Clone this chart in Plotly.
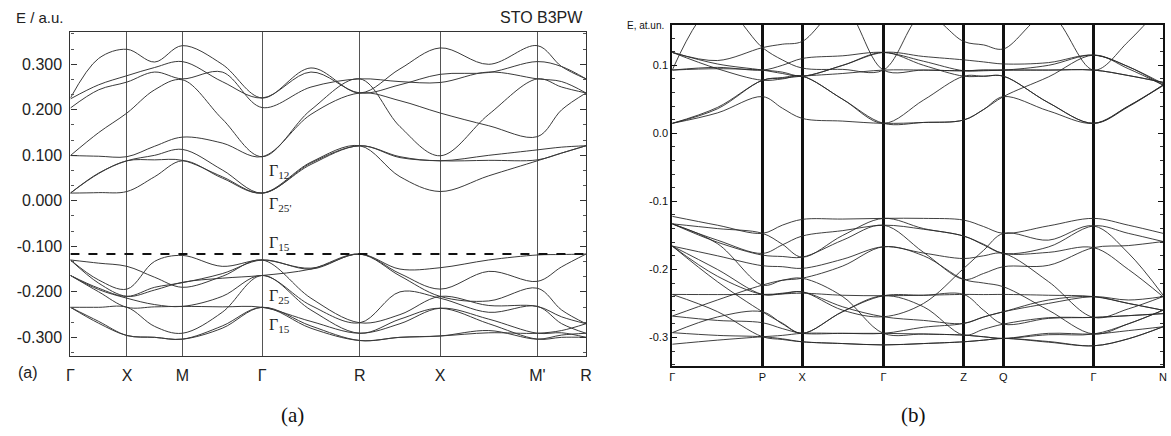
import plotly.graph_objects as go

# ---------------- panel (a): SrTiO3, B3PW ----------------
KA_LABELS = ["Γ", "X", "M", "Γ", "R", "X", "M'", "R"]
KA_TICKS = [0.0, 1.0, 1.98, 3.39, 5.12, 6.54, 8.26, 9.12]

# energies sampled at each symmetry point and at the midpoint of each segment
# Γ, m, X, m, M, m, Γ, m, R, m, X, m, M', m, R
CB_A = [
    [0.226, 0.313, 0.333, 0.305, 0.341, 0.300, 0.226, 0.292, 0.237, 0.290, 0.336, 0.300, 0.341, 0.295, 0.268],
    [0.224, 0.255, 0.275, 0.293, 0.306, 0.262, 0.226, 0.283, 0.237, 0.255, 0.278, 0.282, 0.306, 0.295, 0.268],
    [0.204, 0.244, 0.261, 0.283, 0.268, 0.283, 0.205, 0.250, 0.268, 0.262, 0.260, 0.283, 0.268, 0.262, 0.237],
    [0.0995, 0.150, 0.193, 0.244, 0.266, 0.180, 0.097, 0.200, 0.268, 0.163, 0.099, 0.190, 0.268, 0.250, 0.237],
    [0.0995, 0.098, 0.097, 0.120, 0.140, 0.127, 0.097, 0.190, 0.237, 0.220, 0.193, 0.165, 0.141, 0.200, 0.237],
    [0.017, 0.061, 0.088, 0.100, 0.113, 0.068, 0.017, 0.083, 0.121, 0.097, 0.088, 0.100, 0.112, 0.118, 0.121],
    [0.017, 0.060, 0.088, 0.090, 0.089, 0.053, 0.017, 0.080, 0.121, 0.095, 0.088, 0.089, 0.090, 0.105, 0.121],
    [0.017, 0.018, 0.0205, 0.053, 0.088, 0.050, 0.017, 0.085, 0.121, 0.053, 0.0205, 0.055, 0.088, 0.105, 0.121],
]
VB_A = [
    [-0.130, -0.137, -0.144, -0.168, -0.190, -0.166, -0.130, -0.214, -0.268, -0.250, -0.210, -0.230, -0.232, -0.255, -0.270],
    [-0.130, -0.174, -0.194, -0.133, -0.120, -0.144, -0.130, -0.148, -0.117, -0.150, -0.147, -0.130, -0.119, -0.118, -0.117],
    [-0.130, -0.181, -0.210, -0.196, -0.179, -0.170, -0.164, -0.150, -0.117, -0.165, -0.210, -0.220, -0.192, -0.240, -0.270],
    [-0.164, -0.192, -0.210, -0.190, -0.180, -0.160, -0.130, -0.150, -0.117, -0.160, -0.194, -0.155, -0.177, -0.145, -0.117],
    [-0.164, -0.195, -0.214, -0.228, -0.232, -0.210, -0.164, -0.230, -0.268, -0.200, -0.214, -0.245, -0.232, -0.270, -0.291],
    [-0.164, -0.200, -0.234, -0.233, -0.232, -0.233, -0.234, -0.265, -0.291, -0.270, -0.236, -0.260, -0.291, -0.290, -0.300],
    [-0.234, -0.234, -0.234, -0.276, -0.291, -0.245, -0.164, -0.240, -0.291, -0.260, -0.236, -0.270, -0.304, -0.300, -0.300],
    [-0.234, -0.269, -0.296, -0.300, -0.304, -0.280, -0.234, -0.275, -0.307, -0.300, -0.297, -0.285, -0.304, -0.295, -0.291],
    [-0.234, -0.265, -0.296, -0.300, -0.304, -0.275, -0.234, -0.280, -0.307, -0.300, -0.297, -0.290, -0.291, -0.285, -0.270],
]
VBM_A = -0.117
A_YTICKS = [0.3, 0.2, 0.1, 0.0, -0.1, -0.2, -0.3]
A_YTEXT = ["0.300", "0.200", "0.100", "0.000", "-0.100", "-0.200", "-0.300"]

# ---------------- panel (b): supercell ----------------
KB_LABELS = ["Γ", "P", "X", "Γ", "Z", "Q", "Γ", "N"]
KB_TICKS = [0, 91, 131, 213, 294, 334, 425, 495]

# Γ, m, P, m, X, m, Γ, m, Z, m, Q, m, Γ, m, N
CB_B = [
    [0.093, 0.190, 0.126, 0.108, 0.096, 0.094, 0.093, 0.175, 0.135, 0.130, 0.124, 0.175, 0.093, 0.135, 0.190],
    [0.119, 0.107, 0.126, 0.131, 0.135, 0.185, 0.093, 0.093, 0.092, 0.093, 0.093, 0.100, 0.115, 0.098, 0.071],
    [0.119, 0.102, 0.093, 0.088, 0.084, 0.100, 0.119, 0.113, 0.108, 0.105, 0.102, 0.104, 0.115, 0.098, 0.073],
    [0.119, 0.095, 0.078, 0.080, 0.084, 0.050, 0.0147, 0.016, 0.0196, 0.035, 0.054, 0.083, 0.115, 0.095, 0.071],
    [0.093, 0.097, 0.093, 0.100, 0.110, 0.114, 0.119, 0.106, 0.092, 0.092, 0.093, 0.093, 0.093, 0.085, 0.075],
    [0.093, 0.095, 0.093, 0.090, 0.084, 0.100, 0.119, 0.100, 0.084, 0.084, 0.084, 0.045, 0.0147, 0.039, 0.071],
    [0.0147, 0.038, 0.078, 0.082, 0.084, 0.050, 0.0147, 0.049, 0.084, 0.084, 0.084, 0.045, 0.0147, 0.040, 0.071],
    [0.0147, 0.036, 0.078, 0.081, 0.084, 0.088, 0.093, 0.093, 0.092, 0.093, 0.093, 0.093, 0.093, 0.085, 0.075],
    [0.0147, 0.030, 0.054, 0.037, 0.022, 0.018, 0.0147, 0.016, 0.0196, 0.035, 0.054, 0.033, 0.0147, 0.040, 0.070],
]
VB_B = [
    [-0.122, -0.135, -0.147, -0.135, -0.1265, -0.126, -0.125, -0.125, -0.1275, -0.137, -0.147, -0.136, -0.125, -0.135, -0.147],
    [-0.133, -0.157, -0.1765, -0.164, -0.151, -0.143, -0.135, -0.141, -0.151, -0.164, -0.1765, -0.167, -0.136, -0.147, -0.159],
    [-0.133, -0.160, -0.179, -0.181, -0.182, -0.157, -0.135, -0.175, -0.2147, -0.206, -0.196, -0.194, -0.168, -0.165, -0.159],
    [-0.133, -0.162, -0.223, -0.216, -0.213, -0.240, -0.294, -0.295, -0.2966, -0.299, -0.3015, -0.294, -0.295, -0.290, -0.2843],
    [-0.1657, -0.180, -0.1946, -0.196, -0.1985, -0.185, -0.1667, -0.176, -0.184, -0.180, -0.1765, -0.218, -0.2706, -0.258, -0.240],
    [-0.1657, -0.218, -0.2623, -0.279, -0.294, -0.262, -0.2387, -0.255, -0.2966, -0.288, -0.2804, -0.271, -0.2706, -0.268, -0.265],
    [-0.1657, -0.210, -0.2368, -0.236, -0.233, -0.260, -0.2696, -0.250, -0.1985, -0.172, -0.147, -0.157, -0.136, -0.176, -0.2377],
    [-0.2368, -0.262, -0.299, -0.303, -0.3064, -0.309, -0.311, -0.309, -0.3064, -0.304, -0.3015, -0.306, -0.3123, -0.302, -0.2843],
    [-0.2368, -0.237, -0.2368, -0.236, -0.235, -0.238, -0.2387, -0.238, -0.2368, -0.237, -0.2368, -0.238, -0.240, -0.250, -0.260],
    [-0.2686, -0.245, -0.223, -0.216, -0.213, -0.195, -0.1667, -0.180, -0.2147, -0.220, -0.2255, -0.260, -0.295, -0.280, -0.260],
    [-0.2686, -0.275, -0.2784, -0.287, -0.294, -0.294, -0.294, -0.285, -0.2794, -0.270, -0.2623, -0.245, -0.240, -0.250, -0.260],
    [-0.293, -0.270, -0.2623, -0.280, -0.294, -0.262, -0.2387, -0.238, -0.2368, -0.260, -0.2804, -0.272, -0.2706, -0.268, -0.265],
    [-0.293, -0.297, -0.299, -0.302, -0.3064, -0.309, -0.311, -0.309, -0.3064, -0.304, -0.3015, -0.307, -0.3123, -0.302, -0.2843],
    [-0.310, -0.304, -0.299, -0.297, -0.294, -0.294, -0.294, -0.295, -0.2966, -0.299, -0.3015, -0.296, -0.295, -0.280, -0.260],
    [-0.133, -0.140, -0.147, -0.163, -0.182, -0.150, -0.125, -0.140, -0.151, -0.163, -0.1765, -0.175, -0.168, -0.200, -0.240],
    [-0.1657, -0.200, -0.2368, -0.235, -0.233, -0.255, -0.2696, -0.275, -0.2794, -0.270, -0.2623, -0.250, -0.240, -0.245, -0.240],
]
B_YTICKS = [0.1, 0.0, -0.1, -0.2, -0.3]
B_YTEXT = ["0.1", "0.0", "-0.1", "-0.2", "-0.3"]

W, H = 1171, 436


def k_grid(ticks):
    """Symmetry points plus the midpoint of every segment."""
    g = []
    for a, b in zip(ticks[:-1], ticks[1:]):
        g += [a, (a + b) / 2]
    g.append(ticks[-1])
    return g


def px_x(p):
    return p / W


def px_y(p):
    return 1 - p / H


fig = go.Figure()

ga = k_grid(KA_TICKS)
for band in CB_A + VB_A:
    fig.add_trace(go.Scatter(x=ga, y=band, mode="lines", line=dict(color="#3a3a3a", width=1, shape="spline"),
                             hoverinfo="skip", showlegend=False, xaxis="x", yaxis="y"))

gb = k_grid(KB_TICKS)
for band in CB_B + VB_B:
    fig.add_trace(go.Scatter(x=gb, y=band, mode="lines", line=dict(color="#2a2a2a", width=0.9, shape="spline"),
                             hoverinfo="skip", showlegend=False, xaxis="x2", yaxis="y2"))

label_font = dict(family="Liberation Sans, Arial, sans-serif", size=16, color="#222")
small_font = dict(family="Liberation Sans, Arial, sans-serif", size=11, color="#111")

fig.update_layout(
    width=W, height=H, margin=dict(l=0, r=0, t=0, b=0),
    paper_bgcolor="white", plot_bgcolor="white",
    xaxis=dict(domain=[px_x(67), px_x(587)], range=[KA_TICKS[0], KA_TICKS[-1]],
               tickvals=KA_TICKS, ticktext=KA_LABELS, ticks="", tickfont=label_font, ticklabelstandoff=5,
               showgrid=True, gridcolor="#555", gridwidth=1, zeroline=False,
               showline=True, linecolor="#333", linewidth=1.2, mirror=True, anchor="y"),
    yaxis=dict(domain=[px_y(356), px_y(32)], range=[-0.341, 0.371],
               tickvals=A_YTICKS, ticktext=A_YTEXT, tickfont=label_font, ticklabelstandoff=4,
               ticks="inside", ticklen=6, tickcolor="#333", showgrid=False, zeroline=False,
               showline=True, linecolor="#333", linewidth=1.2, mirror="ticks", anchor="x",
               minor=dict(dtick=0.1 / 3, tick0=0, ticks="inside", ticklen=3, tickcolor="#555")),
    xaxis2=dict(domain=[px_x(674), px_x(1169)], range=[KB_TICKS[0], KB_TICKS[-1]],
                tickvals=KB_TICKS, ticktext=KB_LABELS, ticks="", tickfont=small_font,
                showgrid=True, gridcolor="#111", gridwidth=2.5, zeroline=False,
                showline=True, linecolor="#111", linewidth=2, mirror=True, anchor="y2"),
    yaxis2=dict(domain=[px_y(366), px_y(24.5)], range=[-0.342, 0.160],
                tickvals=B_YTICKS, ticktext=B_YTEXT, tickfont=small_font,
                ticks="inside", ticklen=5, tickcolor="#111", showgrid=False, zeroline=False,
                showline=True, linecolor="#111", linewidth=2, mirror="ticks", anchor="x2",
                minor=dict(dtick=0.02, tick0=0, ticks="inside", ticklen=3, tickcolor="#333")),
)

# top of the valence band in panel (a)
fig.add_shape(type="line", xref="x", yref="y", x0=KA_TICKS[0], x1=KA_TICKS[-1], y0=VBM_A, y1=VBM_A,
              line=dict(color="#111", width=2, dash="dash"))

serif = dict(family="Liberation Serif, Times New Roman, serif", size=16, color="#222")
gamma_labels = [("Γ<sub>12</sub>", 0.064), ("Γ<sub>25'</sub>", -0.009), ("Γ<sub>15</sub>", -0.093),
                ("Γ<sub>25</sub>", -0.211), ("Γ<sub>15</sub>", -0.275)]
for txt, e in gamma_labels:
    fig.add_annotation(x=3.47, y=e, xref="x", yref="y", text=txt, showarrow=False,
                       xanchor="left", yanchor="middle", font=serif)

texts = [
    ("E / a.u.", 10, 17, "left", dict(family="Liberation Sans, Arial, sans-serif", size=15, color="#222")),
    ("STO B3PW", 586, 18, "right", label_font),
    ("(a)", 12, 372, "left", label_font),
    ("E, at.un.", 668, 25, "right", dict(family="Liberation Sans, Arial, sans-serif", size=10, color="#111")),
    ("(a)", 291, 415, "center", dict(family="Liberation Serif, serif", size=21, color="#111")),
    ("(b)", 917, 415, "center", dict(family="Liberation Serif, serif", size=21, color="#111")),
]
for txt, x, y, anchor, font in texts:
    fig.add_annotation(x=px_x(x), y=px_y(y), xref="paper", yref="paper", text=txt, showarrow=False,
                       xanchor=anchor, yanchor="middle", font=font)

fig.write_html("out.html")
